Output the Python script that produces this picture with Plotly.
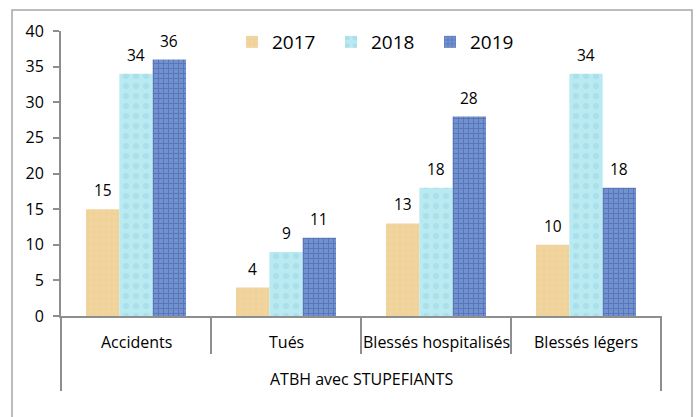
import plotly.graph_objects as go

# Data
categories = ["Accidents", "Tués", "Blessés hospitalisés", "Blessés légers"]
group_label = "ATBH avec STUPEFIANTS"
years = ["2017", "2018", "2019"]
values_2017 = [15, 4, 13, 10]
values_2018 = [34, 9, 18, 34]
values_2019 = [36, 11, 28, 18]

series = [values_2017, values_2018, values_2019]
styles = [
    dict(color="#F2D59E", pattern=dict(shape="+", fgcolor="#E0BE7C", size=6, solidity=0.12, fgopacity=0.45)),
    dict(color="#B9EAF1", pattern=dict(shape=".", fgcolor="#96D5E0", size=10, solidity=0.3, fgopacity=0.45)),
    dict(color="#7291CF", pattern=dict(shape="+", fgcolor="#4C69AC", size=5, solidity=0.35, fgopacity=0.7)),
]

FONT = "Open Sans"
AXIS_GREY = "#8E8E8E"

fig = go.Figure()
for name, vals, st in zip(years, series, styles):
    fig.add_trace(go.Bar(
        x=categories, y=vals, name=name,
        marker=dict(color=st["color"], pattern=st["pattern"], line=dict(width=0)),
    ))

# value labels above each bar
plot_w = 600
bargap = 1 / 3
bar_px = plot_w / len(categories) * (1 - bargap) / len(series)
annotations = []
for k, vals in enumerate(series):
    for cat, v in zip(categories, vals):
        annotations.append(dict(
            x=cat, y=v, xref="x", yref="y", text=str(v), showarrow=False,
            xshift=(k - 1) * bar_px, yanchor="bottom", yshift=6,
            font=dict(family=FONT, size=15.5, color="#000000"),
        ))

# category labels (inner level) and group label (outer level)
plot_h = 285
for cat in categories:
    annotations.append(dict(
        x=cat, y=-26 / plot_h, xref="x", yref="paper", text=cat, showarrow=False,
        yanchor="middle", font=dict(family=FONT, size=16, color="#000000"),
    ))
annotations.append(dict(
    x=0.5, y=-63 / plot_h, xref="paper", yref="paper", text=group_label, showarrow=False,
    yanchor="middle", font=dict(family=FONT, size=16, color="#000000"),
))

# dividers of the two-level category axis
shapes = []
n = len(categories)
for i in range(1, n):
    shapes.append(dict(type="line", xref="paper", yref="paper", x0=i / n, x1=i / n,
                       y0=0, y1=-38 / plot_h, line=dict(color=AXIS_GREY, width=2)))
for xb in (0, 1):
    shapes.append(dict(type="line", xref="paper", yref="paper", x0=xb, x1=xb,
                       y0=0, y1=-75 / plot_h, line=dict(color=AXIS_GREY, width=2)))
# chart frame
shapes.append(dict(type="rect", xref="paper", yref="paper",
                   x0=-49 / plot_w, x1=631 / plot_w, y0=-120 / plot_h, y1=306 / plot_h,
                   line=dict(color="#A6A6A6", width=1.5), fillcolor="rgba(0,0,0,0)", layer="below"))

fig.update_layout(
    width=700, height=417,
    margin=dict(l=61, r=39, t=31, b=101),
    paper_bgcolor="white", plot_bgcolor="white",
    barmode="group", bargap=bargap, bargroupgap=0,
    font=dict(family=FONT, color="#000000"),
    showlegend=True,
    legend=dict(orientation="h", x=(232 - 61) / plot_w, xanchor="left",
                y=(316 - 42) / plot_h, yanchor="middle",
                font=dict(family=FONT, size=19, color="#000000"),
                entrywidth=54, entrywidthmode="pixels", bgcolor="rgba(0,0,0,0)"),
    annotations=annotations,
    shapes=shapes,
)
fig.update_xaxes(type="category", showline=True, linecolor=AXIS_GREY, linewidth=2,
                 showticklabels=False, ticks="", showgrid=False, zeroline=False,
                 range=[-0.5, n - 0.5])
fig.update_yaxes(range=[0, 40], dtick=5, showline=True, linecolor=AXIS_GREY, linewidth=2,
                 ticks="outside", ticklen=6, tickwidth=2, tickcolor=AXIS_GREY,
                 ticklabelstandoff=6,
                 showgrid=False, zeroline=False,
                 tickfont=dict(family=FONT, size=16, color="#000000"))

fig.write_html("out.html")
